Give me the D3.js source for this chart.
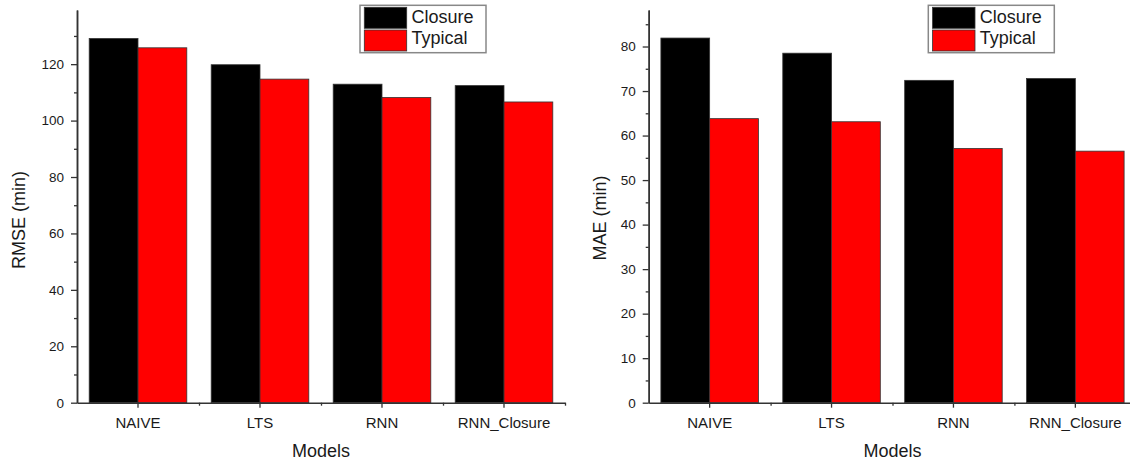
<!DOCTYPE html>
<html>
<head>
<meta charset="utf-8">
<script src="https://cdn.jsdelivr.net/npm/d3@7"></script>
<style>
    body { margin: 0; background: #fff; }
    svg { display: block; font-family: "Liberation Sans", Arial, sans-serif; }
    .tick text { fill: #1a1a1a; }
</style>
</head>
<body>
<svg id="chart" width="1130" height="463"></svg>
<script>

// data
var models = ["NAIVE", "LTS", "RNN", "RNN_Closure"];
var seriesNames = ["Closure", "Typical"];
var rmseClosure = [129.1, 119.8, 112.9, 112.4];
var rmseTypical = [125.8, 114.7, 108.2, 106.6];
var maeClosure = [81.9, 78.5, 72.4, 72.8];
var maeTypical = [63.8, 63.1, 57.1, 56.5];
var rmseTicks = [0, 20, 40, 60, 80, 100, 120];
var maeTicks = [0, 10, 20, 30, 40, 50, 60, 70, 80];

// layout / style for both panels
var style = {
    colors: ["#000000", "#ff0000"],
    axis: "#333",
    text: "#1a1a1a"
};

var panels = [
    {
        left: 77, right: 565, top: 10, bottom: 402.7, // plot box
        ymax: 139.2, ticks: rmseTicks, minor: 10,
        ylab: "RMSE (min)", ylabX: 19, ylabY: 220,
        legendX: 360,
        values: [rmseClosure, rmseTypical]
    },
    {
        left: 648.7, right: 1136.3, top: 10, bottom: 402.7,
        ymax: 88.2, ticks: maeTicks, minor: 5,
        ylab: "MAE (min)", ylabX: 600, ylabY: 218,
        legendX: 928.3,
        values: [maeClosure, maeTypical]
    }
];

var svg = d3.select("#chart");

panels.forEach(function (p) {
    var g = svg.append("g");

    // scales
    var x = d3.scaleBand().domain(models).range([p.left, p.right])
            .paddingInner(0.2).paddingOuter(0.1);
    var xs = d3.scaleBand().domain(seriesNames).range([0, x.bandwidth()]);
    var y = d3.scaleLinear().domain([0, p.ymax]).range([p.bottom, p.top]);

    // bars
    seriesNames.forEach(function (s, si) {
        g.selectAll(".bar" + si).data(models).enter().append("rect")
                .attr("x", function (d) { return x(d) + xs(s); })
                .attr("width", xs.bandwidth())
                .attr("y", function (d, i) { return y(p.values[si][i]); })
                .attr("height", function (d, i) { return y(0) - y(p.values[si][i]); })
                .attr("fill", style.colors[si])
                .attr("stroke", "#333").attr("stroke-width", 0.8);
    });

    // y axis, major + minor ticks
    var minorVals = d3.range(p.minor, p.ymax, p.minor)
            .filter(function (v) { return p.ticks.indexOf(v) < 0; });
    var ym = g.append("g").attr("transform", "translate(" + p.left + ",0)")
            .call(d3.axisLeft(y).tickValues(minorVals).tickSize(3).tickSizeOuter(0).tickFormat(""));
    var ya = g.append("g").attr("transform", "translate(" + p.left + ",0)")
            .call(d3.axisLeft(y).tickValues(p.ticks).tickSize(6).tickSizeOuter(0).tickPadding(7));
    ya.selectAll("text").attr("font-size", "13.5px").attr("font-family", null);
    [ym, ya].forEach(function (a) {
        a.selectAll("line").attr("stroke", style.axis).attr("stroke-width", 1.3);
        a.select(".domain").attr("stroke", style.axis).attr("stroke-width", 1.5);
    });

    // x axis, ticks at centres + minor ticks at group boundaries
    var xb = d3.scaleLinear().domain([0, models.length]).range([p.left, p.right]);
    var xm = g.append("g").attr("transform", "translate(0," + p.bottom + ")")
            .call(d3.axisBottom(xb).tickValues(d3.range(1, models.length + 1))
            .tickSize(3).tickSizeOuter(0).tickFormat(""));
    var xa = g.append("g").attr("transform", "translate(0," + p.bottom + ")")
            .call(d3.axisBottom(x).tickSize(5).tickSizeOuter(0).tickPadding(10));
    xa.selectAll("text").attr("font-size", "15px").attr("font-family", null);
    xa.select(".domain").remove();
    [xm, xa].forEach(function (a) {
        a.selectAll("line").attr("stroke", style.axis).attr("stroke-width", 1.3);
        a.select(".domain").attr("stroke", style.axis).attr("stroke-width", 1.5);
    });

    // axis titles
    g.append("text").text(p.ylab)
            .attr("transform", "translate(" + p.ylabX + "," + p.ylabY + ") rotate(-90)")
            .attr("text-anchor", "middle").attr("dy", "0.35em")
            .attr("font-size", "18px").attr("fill", style.text);
    g.append("text").text("Models")
            .attr("x", p.left + 2 * x.step()).attr("y", 457)
            .attr("text-anchor", "middle")
            .attr("font-size", "18px").attr("fill", style.text);

    // legend
    var lg = g.append("g").attr("transform", "translate(" + p.legendX + ",5.3)");
    lg.append("rect").attr("width", 126).attr("height", 47.4)
            .attr("fill", "#fff").attr("stroke", "#888").attr("stroke-width", 1.5);
    seriesNames.forEach(function (s, si) {
        lg.append("rect").attr("x", 4.3).attr("y", 2 + si * 22.7)
                .attr("width", 42.4).attr("height", 21)
                .attr("fill", style.colors[si]).attr("stroke", "#333").attr("stroke-width", 0.8);
        lg.append("text").text(s).attr("x", 51.5).attr("y", 18.2 + si * 21)
                .attr("font-size", "18px").attr("fill", style.text);
    });
});

</script>
</body>
</html>
